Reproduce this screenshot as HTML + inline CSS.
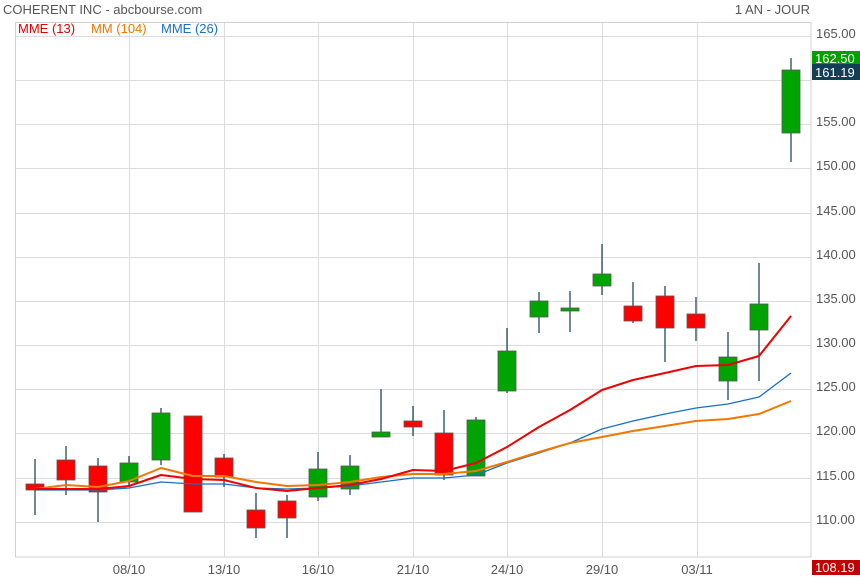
<!DOCTYPE html>
<html><head><meta charset="utf-8"><style>
html,body{margin:0;padding:0;background:#fff;}
svg{display:block;font-family:"Liberation Sans",Arial,sans-serif;}
</style></head><body>
<svg width="860" height="580" viewBox="0 0 860 580">
<rect width="860" height="580" fill="#fff"/>
<g stroke="#dcdcdc" stroke-width="1">
<line x1="15" y1="36.5" x2="811" y2="36.5"/><line x1="15" y1="80.5" x2="811" y2="80.5"/>
<line x1="15" y1="124.5" x2="811" y2="124.5"/><line x1="15" y1="168.5" x2="811" y2="168.5"/>
<line x1="15" y1="213.5" x2="811" y2="213.5"/><line x1="15" y1="257.5" x2="811" y2="257.5"/>
<line x1="15" y1="301.5" x2="811" y2="301.5"/><line x1="15" y1="345.5" x2="811" y2="345.5"/>
<line x1="15" y1="389.5" x2="811" y2="389.5"/><line x1="15" y1="433.5" x2="811" y2="433.5"/>
<line x1="15" y1="478.5" x2="811" y2="478.5"/><line x1="15" y1="522.5" x2="811" y2="522.5"/>
<line x1="129.5" y1="22" x2="129.5" y2="557"/><line x1="224.5" y1="22" x2="224.5" y2="557"/>
<line x1="318.5" y1="22" x2="318.5" y2="557"/><line x1="413.5" y1="22" x2="413.5" y2="557"/>
<line x1="507.5" y1="22" x2="507.5" y2="557"/><line x1="602.5" y1="22" x2="602.5" y2="557"/>
<line x1="697.5" y1="22" x2="697.5" y2="557"/>
</g>
<rect x="15.5" y="22.5" width="795.5" height="534.5" fill="none" stroke="#d0d0d0"/>
<g font-size="13" fill="#555">
<text x="3" y="14">COHERENT INC - abcbourse.com</text>
<text x="810" y="14" text-anchor="end">1 AN - JOUR</text>
<text x="816" y="38">165.00</text><text x="816" y="126">155.00</text><text x="816" y="170">150.00</text>
<text x="816" y="215">145.00</text><text x="816" y="259">140.00</text><text x="816" y="303">135.00</text>
<text x="816" y="347">130.00</text><text x="816" y="391">125.00</text><text x="816" y="435">120.00</text>
<text x="816" y="480">115.00</text><text x="816" y="524">110.00</text>
<text x="129" y="574" text-anchor="middle">08/10</text><text x="224" y="574" text-anchor="middle">13/10</text>
<text x="318" y="574" text-anchor="middle">16/10</text><text x="413" y="574" text-anchor="middle">21/10</text>
<text x="507" y="574" text-anchor="middle">24/10</text><text x="602" y="574" text-anchor="middle">29/10</text>
<text x="697" y="574" text-anchor="middle">03/11</text>
</g>
<g font-size="13">
<text x="18" y="33" fill="#e00000">MME (13)</text>
<text x="91" y="33" fill="#f07800">MM (104)</text>
<text x="161" y="33" fill="#1a6ec8">MME (26)</text>
</g>
<g stroke="#0f3a4f" stroke-width="1.2">
<line x1="35" y1="459" x2="35" y2="515"/><line x1="66" y1="446" x2="66" y2="495"/>
<line x1="98" y1="458" x2="98" y2="522"/><line x1="129" y1="456" x2="129" y2="486"/>
<line x1="161" y1="408" x2="161" y2="465"/><line x1="224" y1="454" x2="224" y2="487"/>
<line x1="256" y1="493" x2="256" y2="538"/><line x1="287" y1="495" x2="287" y2="538"/>
<line x1="318" y1="452" x2="318" y2="501"/><line x1="350" y1="455" x2="350" y2="495"/>
<line x1="381" y1="389" x2="381" y2="437"/><line x1="413" y1="406" x2="413" y2="436"/>
<line x1="444" y1="410" x2="444" y2="480"/><line x1="476" y1="417" x2="476" y2="476"/>
<line x1="507" y1="328" x2="507" y2="393"/><line x1="539" y1="292" x2="539" y2="333"/>
<line x1="570" y1="291" x2="570" y2="332"/><line x1="602" y1="244" x2="602" y2="295"/>
<line x1="633" y1="282" x2="633" y2="323"/><line x1="665" y1="286" x2="665" y2="362"/>
<line x1="696" y1="297" x2="696" y2="341"/><line x1="728" y1="332" x2="728" y2="400"/>
<line x1="759" y1="263" x2="759" y2="381"/><line x1="791" y1="58" x2="791" y2="162"/>
</g>
<g stroke="#555" stroke-width="0.8">
<g fill="#ff0000">
<rect x="26" y="484" width="18" height="6"/><rect x="57" y="460" width="18" height="20"/>
<rect x="89" y="466" width="18" height="26"/><rect x="184" y="416" width="18" height="96"/>
<rect x="215" y="458" width="18" height="19"/><rect x="247" y="510" width="18" height="18"/>
<rect x="278" y="501" width="18" height="17"/><rect x="404" y="421" width="18" height="6"/>
<rect x="435" y="433" width="18" height="42"/><rect x="624" y="306" width="18" height="15"/>
<rect x="656" y="296" width="18" height="32"/><rect x="687" y="314" width="18" height="14"/>
</g>
<g fill="#00a400">
<rect x="120" y="463" width="18" height="19"/><rect x="152" y="413" width="18" height="47"/>
<rect x="309" y="469" width="18" height="28"/><rect x="341" y="466" width="18" height="23"/>
<rect x="372" y="432" width="18" height="5"/><rect x="467" y="420" width="18" height="56"/>
<rect x="498" y="351" width="18" height="40"/><rect x="530" y="301" width="18" height="16"/>
<rect x="561" y="308" width="18" height="3"/><rect x="593" y="274" width="18" height="12"/>
<rect x="719" y="357" width="18" height="24"/><rect x="750" y="304" width="18" height="26"/>
<rect x="782" y="70" width="18" height="63"/>
</g>
</g>
<g fill="none" stroke-linejoin="round">
<polyline stroke="#1a6ec8" stroke-width="1.3" points="35,490 66,490 98,490 129,488 161,482 193,484 224,484 256,488 287,489 318,488 350,486 381,482 413,478 444,478 476,475 507,463 539,453 570,443 602,429 633,421 665,414 696,408 728,404 759,397 791,373"/>
<polyline stroke="#f07800" stroke-width="2" points="35,489 66,485 98,487 129,481 161,468 193,476 224,476 256,482 287,486 318,485 350,482 381,477 413,474 444,474 476,471 507,462 539,452 570,443 602,437 633,431 665,426 696,421 728,419 759,414 791,401"/>
<polyline stroke="#f00000" stroke-width="2" points="35,489 66,489 98,489 129,486 161,475 193,479 224,480 256,488 287,491 318,488 350,485 381,479 413,470 444,471 476,463 507,447 539,427 570,410 602,390 633,380 665,373 696,366 728,365 759,356 791,316"/>
</g>
<rect x="812" y="51" width="48" height="14" fill="#00a000"/>
<text x="815" y="63" font-size="13" fill="#fff">162.50</text>
<rect x="812" y="64" width="48" height="16" fill="#123e56"/>
<text x="815" y="77" font-size="13" fill="#fff">161.19</text>
<rect x="812" y="560" width="48" height="15" fill="#c00000"/>
<text x="815" y="572" font-size="13" fill="#fff">108.19</text>
</svg>
</body></html>
